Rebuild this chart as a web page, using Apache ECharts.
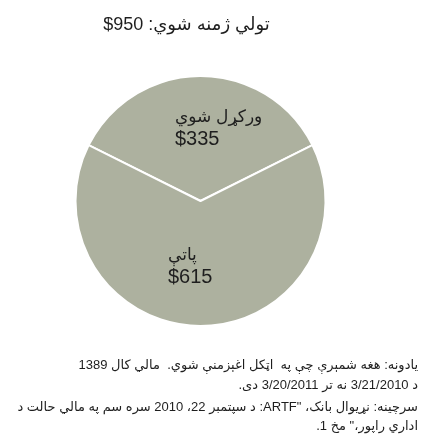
<!DOCTYPE html>
<html>
<head>
<meta charset="utf-8">
<script src="https://cdn.jsdelivr.net/npm/echarts@6/dist/echarts.min.js"></script>
<style>
  html, body { margin: 0; padding: 0; background: #ffffff; }
  #main { width: 425px; height: 440px; }
</style>
</head>
<body>
<div id="main"></div>
<script>
// Commitments split into disbursed and remaining (USD millions)
const categories = ['ورکړل شوي', 'پاتې'];
const amounts = [335, 615];

const titlePrefix = 'تولي ژمنه شوي: ';

const noteLines = [
  'يادونه: هغه شمېرې چې په  اټکل اغېزمنې شوي.  مالي کال 1389',
  'د 3/21/2010 نه تر 3/20/2011 دی.',
  'سرچينه: نړيوال بانک، "ARTF: د سپتمبر 22، 2010 سره سم په مالي حالت د',
  'اداري راپور،" مخ 1.'
];

const total = amounts.reduce((a, b) => a + b, 0);
const sliceColor = '#adb19f';
const textColor = '#1e1e1e';
const fontFamily = '"Liberation Sans", Arial, "DejaVu Sans", sans-serif';

// lines mixing in Latin text or ending on punctuation are laid out
// as a right-to-left paragraph; pure Pashto lines need no help
const needsRtl = s => /[A-Za-z$]|[.،"]$/.test(s);
const rtl = s => (needsRtl(s) ? '\u202B' + s + '\u202C' : s);

// first slice sits centred on the top of the circle
const startAngle = 90 + 180 * amounts[0] / total;

// shifts for the in-slice labels, relative to the default inside anchor
const labelNudge = [
  { dx: -25.5, dy: -7 },
  { dx: -32.5, dy: 0 }
];
// vertical centres of the footnote lines
const noteRows = [365, 385, 407, 426];

const chart = echarts.init(document.getElementById('main'), null, { renderer: 'canvas' });

chart.setOption({
  animation: false,
  graphic: [
    {
      type: 'text',
      silent: true,
      style: {
        text: rtl(titlePrefix + '\u200E$' + total),
        x: 186.5, y: 25,
        align: 'center', verticalAlign: 'middle',
        font: '18px ' + fontFamily,
        fill: textColor
      }
    }
  ].concat(noteLines.map((line, i) => ({
    type: 'text',
    silent: true,
    style: {
      text: rtl(line),
      x: 418, y: noteRows[i],
      align: 'right', verticalAlign: 'middle',
      font: '13px ' + fontFamily,
      fill: textColor
    }
  }))),
  series: [
    {
      type: 'pie',
      center: [200.5, 201],
      radius: [0, 125],
      startAngle: startAngle,
      clockwise: true,
      itemStyle: { color: sliceColor, borderColor: '#ffffff', borderWidth: 2 },
      label: {
        show: true,
        position: 'inside',
        formatter: p => '{n|' + p.name + '}\n{v|$' + p.value + '}',
        color: textColor,
        align: 'left',
        rich: {
          n: { fontFamily, fontSize: 17, lineHeight: 22, color: textColor, align: 'left' },
          v: { fontFamily, fontSize: 20, lineHeight: 22, color: textColor, align: 'left' }
        }
      },
      labelLayout: p => Object.assign({ align: 'left' }, labelNudge[p.dataIndex]),
      emphasis: { disabled: true },
      data: categories.map((name, i) => ({ name, value: amounts[i] }))
    }
  ]
});
</script>
</body>
</html>
